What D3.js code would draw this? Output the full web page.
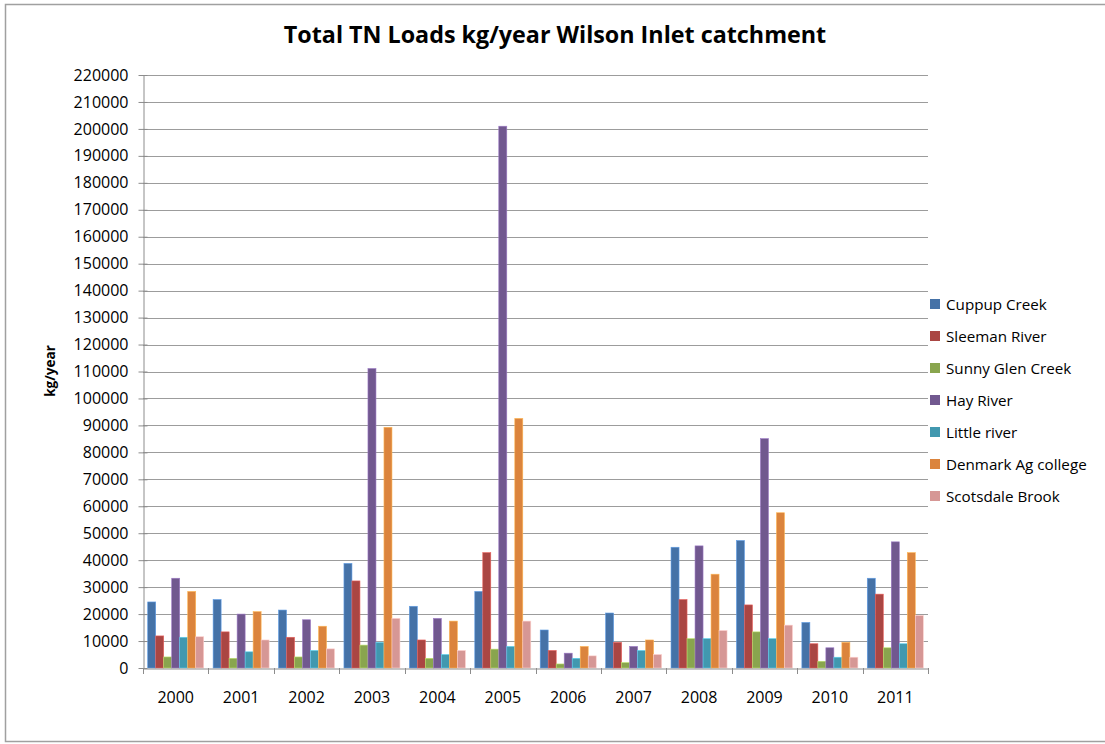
<!DOCTYPE html>
<html>
<head>
<meta charset="utf-8">
<script src="https://cdn.jsdelivr.net/npm/d3@7"></script>
<style>
  body { margin: 0; background: #fff; }
  text { font-family: "Open Sans", sans-serif; fill: #000; }
</style>
</head>
<body>
<svg id="chart" width="1105" height="744"></svg>
<script>
const years = ["2000", "2001", "2002", "2003", "2004", "2005", "2006", "2007", "2008", "2009", "2010", "2011"];
const seriesNames = ["Cuppup Creek", "Sleeman River", "Sunny Glen Creek", "Hay River", "Little river", "Denmark Ag college", "Scotsdale Brook"];
const seriesColors = ["#4572a7", "#aa4643", "#89a54e", "#71588f", "#4198af", "#db843d", "#d69795"];

const cuppup    = [24500, 25400, 21500, 38800, 22900, 28400, 14100, 20400, 44800, 47300, 16900, 33300];
const sleeman   = [11900, 13400, 11400, 32300, 10400, 42800, 6500, 9500, 25400, 23400, 9000, 27400];
const sunnyGlen = [4100, 3600, 4100, 8500, 3600, 7000, 1500, 2000, 10900, 13400, 2500, 7500];
const hayRiver  = [33300, 20000, 17900, 111100, 18400, 201000, 5500, 8000, 45300, 85100, 7500, 46800];
const little    = [11400, 6000, 6500, 9500, 5000, 8000, 3600, 6500, 10900, 10900, 4000, 9000];
const denmark   = [28400, 20900, 15500, 89300, 17400, 92600, 8000, 10400, 34800, 57600, 9500, 42800];
const scotsdale = [11600, 10400, 7100, 18400, 6500, 17400, 4500, 5000, 13900, 15900, 4000, 19500];

const yTicks = d3.range(0, 220001, 10000);

const allSeries = [cuppup, sleeman, sunnyGlen, hayRiver, little, denmark, scotsdale];

const svg = d3.select("#chart");

// chart border
svg.append("rect")
  .attr("x", 5.5).attr("y", 4.5)
  .attr("width", 1110).attr("height", 737)
  .attr("fill", "none")
  .attr("stroke", "#a0a0a0")
  .attr("stroke-width", 1.5);

const plot = { left: 143, right: 928, top: 75, bottom: 668 };

const x0 = d3.scaleBand().domain(years).range([plot.left, plot.right]).padding(0);
const pad = 4.7;
const x1 = d3.scaleBand().domain(seriesNames).range([pad, x0.bandwidth() - pad]).padding(0);
const y = d3.scaleLinear().domain([0, 220000]).range([plot.bottom, plot.top]);

// gridlines
svg.append("g")
  .selectAll("line")
  .data(yTicks.filter(d => d > 0))
  .join("line")
  .attr("x1", plot.left).attr("x2", plot.right)
  .attr("y1", d => Math.round(y(d)) + 0.5)
  .attr("y2", d => Math.round(y(d)) + 0.5)
  .attr("stroke", "#9c9c9c")
  .attr("stroke-width", 1);

// bars
const groups = svg.append("g")
  .selectAll("g")
  .data(years)
  .join("g")
  .attr("transform", d => "translate(" + x0(d) + ",0)");

groups.selectAll("rect")
  .data((yr, i) => seriesNames.map((s, j) => ({ s: s, j: j, v: allSeries[j][i] })))
  .join("rect")
  .attr("x", d => x1(d.s))
  .attr("width", x1.bandwidth())
  .attr("y", d => y(d.v))
  .attr("height", d => y(0) - y(d.v))
  .attr("fill", d => seriesColors[d.j])
  .attr("stroke", d => d3.color(seriesColors[d.j]).brighter(0.9))
  .attr("stroke-width", 0.6);

// y axis
const yAxis = d3.axisLeft(y)
  .tickValues(yTicks)
  .tickFormat(d3.format("d"))
  .tickSizeInner(5)
  .tickSizeOuter(0)
  .tickPadding(10);

const gy = svg.append("g")
  .attr("transform", "translate(" + (plot.left + 0.5) + ",0)")
  .call(yAxis);
gy.select(".domain").attr("stroke", "#8c8c8c");
gy.selectAll(".tick line").attr("stroke", "#8c8c8c").attr("x2", 4).attr("x1", -5);
gy.selectAll(".tick text")
  .attr("x", -15)
  .style("font-size", "16px")
  .style("font-family", "Open Sans, sans-serif");

// x axis
const xAxis = d3.axisBottom(x0).tickSize(0).tickPadding(23);
const gx = svg.append("g")
  .attr("transform", "translate(0," + (plot.bottom + 0.5) + ")")
  .call(xAxis);
gx.select(".domain").attr("stroke", "#8c8c8c");
gx.selectAll(".tick text")
  .style("font-size", "16px")
  .style("font-family", "Open Sans, sans-serif");

// category boundary ticks
svg.append("g")
  .selectAll("line")
  .data(years.concat(["end"]))
  .join("line")
  .attr("x1", (d, i) => Math.round(plot.left + i * x0.step()) + 0.5)
  .attr("x2", (d, i) => Math.round(plot.left + i * x0.step()) + 0.5)
  .attr("y1", plot.bottom)
  .attr("y2", plot.bottom + 6)
  .attr("stroke", "#8c8c8c");

// title
svg.append("text")
  .attr("x", 555)
  .attr("y", 43)
  .attr("text-anchor", "middle")
  .style("font-size", "23.3px")
  .style("font-weight", "bold")
  .text("Total TN Loads kg/year Wilson Inlet catchment");

// y axis label
svg.append("text")
  .attr("transform", "translate(55,371)rotate(-90)")
  .attr("text-anchor", "middle")
  .style("font-size", "13.5px")
  .style("font-weight", "bold")
  .text("kg/year");

// legend
const legend = svg.append("g")
  .selectAll("g")
  .data(seriesNames)
  .join("g")
  .attr("transform", (d, i) => "translate(930," + (304 + i * 32) + ")");

legend.append("rect")
  .attr("x", 0).attr("y", -5)
  .attr("width", 10).attr("height", 10)
  .attr("fill", (d, i) => seriesColors[i]);

legend.append("text")
  .attr("x", 16)
  .attr("y", 5.5)
  .style("font-size", "15.2px")
  .text(d => d);
</script>
</body>
</html>
